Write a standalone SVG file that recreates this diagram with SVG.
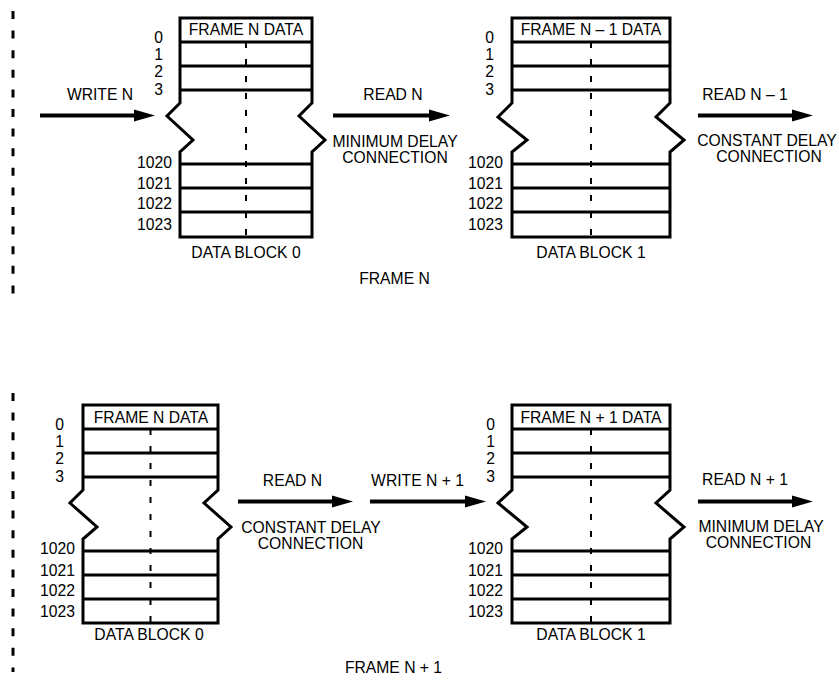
<svg xmlns="http://www.w3.org/2000/svg" width="839" height="680" viewBox="0 0 839 680">
<style>
text{font-family:"Liberation Sans",Arial,sans-serif;font-size:15.7px;fill:#000}
.m{text-anchor:middle}
.e{text-anchor:end}
.blk{fill:none;stroke:#000;stroke-width:3;stroke-linejoin:miter}
.row{stroke:#000;stroke-width:3}
.ctr{stroke:#000;stroke-width:2;stroke-dasharray:6 11}
.brd{stroke:#000;stroke-width:3;stroke-dasharray:8 11.6}
.arr{stroke:#000;stroke-width:4;marker-end:url(#ah)}
</style>
<defs>
<marker id="ah" markerUnits="userSpaceOnUse" markerWidth="22" markerHeight="14" viewBox="0 -7 22 14" refX="1" refY="0" orient="auto">
<path d="M0,-6 L21,0 L0,6 Z" fill="#000"/>
</marker>
</defs>
<rect width="839" height="680" fill="#fff"/>

<g id="borders">
<line class="brd" x1="13" y1="11" x2="13" y2="294"/>
<line class="brd" x1="13" y1="393" x2="13" y2="672"/>
</g>

<!-- top row block 0 -->
<g id="top-block0">
<path class="blk" d="M180,18 H312 V103 L299,116 L325,140 L312,152 V237 H180 V152 L193,140 L167,116 L180,103 Z"/>
<line class="row" x1="180" y1="42" x2="312" y2="42"/>
<line class="row" x1="180" y1="66" x2="312" y2="66"/>
<line class="row" x1="180" y1="90" x2="312" y2="90"/>
<line class="row" x1="180" y1="164" x2="312" y2="164"/>
<line class="row" x1="180" y1="188" x2="312" y2="188"/>
<line class="row" x1="180" y1="212" x2="312" y2="212"/>
<line class="ctr" x1="246" y1="42" x2="246" y2="237"/>
<text class="m" x="246" y="35">FRAME N DATA</text>
<text class="e" x="163" y="42.5">0</text>
<text class="e" x="163" y="59.5">1</text>
<text class="e" x="163" y="77">2</text>
<text class="e" x="163" y="94.5">3</text>
<text class="e" x="172" y="168">1020</text>
<text class="e" x="172" y="189">1021</text>
<text class="e" x="172" y="209">1022</text>
<text class="e" x="172" y="229.5">1023</text>
<text class="m" x="246" y="258">DATA BLOCK 0</text>
</g>

<!-- top row block 1 -->
<g id="top-block1">
<path class="blk" d="M512,18 H670 V103 L656,117 L684,140 L670,152 V237 H512 V152 L527,140 L498,117 L512,103 Z"/>
<line class="row" x1="512" y1="42" x2="670" y2="42"/>
<line class="row" x1="512" y1="66" x2="670" y2="66"/>
<line class="row" x1="512" y1="90" x2="670" y2="90"/>
<line class="row" x1="512" y1="164" x2="670" y2="164"/>
<line class="row" x1="512" y1="188" x2="670" y2="188"/>
<line class="row" x1="512" y1="212" x2="670" y2="212"/>
<line class="ctr" x1="591" y1="42" x2="591" y2="237"/>
<text class="m" x="591" y="35">FRAME N – 1 DATA</text>
<text class="e" x="494" y="42.5">0</text>
<text class="e" x="494" y="59.5">1</text>
<text class="e" x="494" y="77">2</text>
<text class="e" x="494" y="94.5">3</text>
<text class="e" x="503" y="168">1020</text>
<text class="e" x="503" y="189">1021</text>
<text class="e" x="503" y="209">1022</text>
<text class="e" x="503" y="229.5">1023</text>
<text class="m" x="591" y="258">DATA BLOCK 1</text>
</g>

<!-- bottom row block 0 -->
<g id="bottom-block0">
<path class="blk" d="M83,405 H218 V490 L204,503 L231,527 L218,539 V623 H83 V539 L97,527 L70,503 L83,490 Z"/>
<line class="row" x1="83" y1="429" x2="218" y2="429"/>
<line class="row" x1="83" y1="453" x2="218" y2="453"/>
<line class="row" x1="83" y1="477" x2="218" y2="477"/>
<line class="row" x1="83" y1="551" x2="218" y2="551"/>
<line class="row" x1="83" y1="575" x2="218" y2="575"/>
<line class="row" x1="83" y1="599" x2="218" y2="599"/>
<line class="ctr" x1="150.5" y1="429" x2="150.5" y2="623"/>
<text class="m" x="151" y="423">FRAME N DATA</text>
<text class="e" x="64" y="429.5">0</text>
<text class="e" x="64" y="446.5">1</text>
<text class="e" x="64" y="464">2</text>
<text class="e" x="64" y="481.5">3</text>
<text class="e" x="75" y="554">1020</text>
<text class="e" x="75" y="576">1021</text>
<text class="e" x="75" y="596">1022</text>
<text class="e" x="75" y="616.5">1023</text>
<text class="m" x="149" y="640">DATA BLOCK 0</text>
</g>

<!-- bottom row block 1 -->
<g id="bottom-block1">
<path class="blk" d="M512,405 H670 V490 L656,503 L684,527 L670,539 V623 H512 V539 L527,527 L498,503 L512,490 Z"/>
<line class="row" x1="512" y1="429" x2="670" y2="429"/>
<line class="row" x1="512" y1="453" x2="670" y2="453"/>
<line class="row" x1="512" y1="477" x2="670" y2="477"/>
<line class="row" x1="512" y1="551" x2="670" y2="551"/>
<line class="row" x1="512" y1="575" x2="670" y2="575"/>
<line class="row" x1="512" y1="599" x2="670" y2="599"/>
<line class="ctr" x1="591" y1="429" x2="591" y2="623"/>
<text class="m" x="591" y="423">FRAME N + 1 DATA</text>
<text class="e" x="495" y="429.5">0</text>
<text class="e" x="495" y="446.5">1</text>
<text class="e" x="495" y="464">2</text>
<text class="e" x="495" y="481.5">3</text>
<text class="e" x="503" y="554">1020</text>
<text class="e" x="503" y="576">1021</text>
<text class="e" x="503" y="596">1022</text>
<text class="e" x="503" y="616.5">1023</text>
<text class="m" x="591" y="640">DATA BLOCK 1</text>
</g>

<g id="connectors">
<line class="arr" x1="40" y1="115.5" x2="135" y2="115.5"/>
<line class="arr" x1="333" y1="115.5" x2="430" y2="115.5"/>
<line class="arr" x1="698" y1="115.5" x2="793" y2="115.5"/>
<line class="arr" x1="238" y1="501.5" x2="333" y2="501.5"/>
<line class="arr" x1="370" y1="501.5" x2="466" y2="501.5"/>
<line class="arr" x1="698" y1="501.5" x2="793" y2="501.5"/>
</g>

<g id="labels">
<text class="m" x="100" y="100">WRITE N</text>
<text class="m" x="393" y="100">READ N</text>
<text class="m" x="395" y="147">MINIMUM DELAY</text>
<text class="m" x="395" y="163">CONNECTION</text>
<text class="m" x="745" y="100">READ N – 1</text>
<text class="m" x="767" y="146">CONSTANT DELAY</text>
<text class="m" x="769" y="162">CONNECTION</text>
<text class="m" x="394.5" y="284">FRAME N</text>

<text class="m" x="292.5" y="486">READ N</text>
<text class="m" x="311" y="533">CONSTANT DELAY</text>
<text class="m" x="310.5" y="549">CONNECTION</text>
<text class="m" x="417.5" y="486">WRITE N + 1</text>
<text class="m" x="745" y="485">READ N + 1</text>
<text class="m" x="761" y="532">MINIMUM DELAY</text>
<text class="m" x="758.5" y="548">CONNECTION</text>
<text class="m" x="393.5" y="673">FRAME N + 1</text>
</g>
</svg>
